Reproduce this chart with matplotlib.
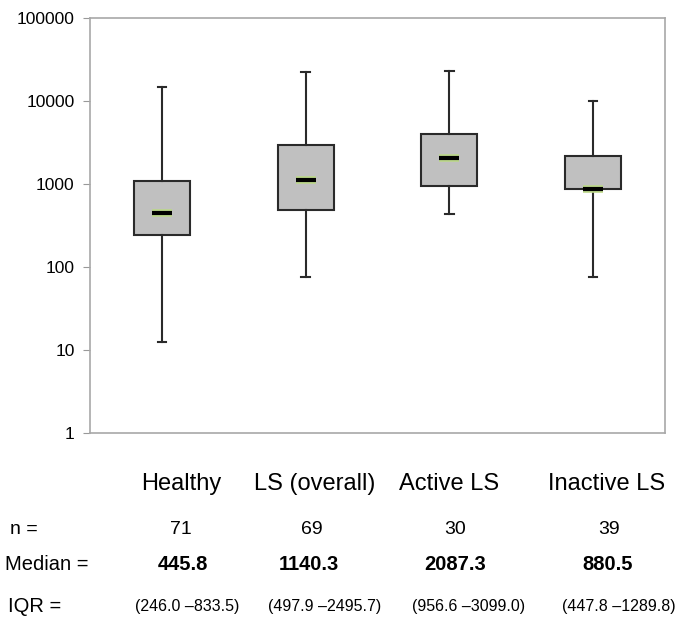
import matplotlib
matplotlib.use('Agg')
import matplotlib.pyplot as plt
import matplotlib.patheffects as pe
import numpy as np

plt.rcParams['font.family'] = ['Liberation Sans', 'DejaVu Sans']

# values
groups = ['Healthy', 'LS (overall)', 'Active LS', 'Inactive LS']
whisker_low = [12.5, 75, 435, 75]
box_low = [243, 490, 950, 870]
medians = [447, 1120, 2060, 880]
box_high = [1085, 2950, 4000, 2175]
whisker_high = [14800, 22400, 22900, 10000]

n_values = ['71', '69', '30', '39']
median_labels = ['445.8', '1140.3', '2087.3', '880.5']
iqr_labels = ['(246.0 \u2013833.5)', '(497.9 \u20132495.7)', '(956.6 \u20133099.0)', '(447.8 \u20131289.8)']

W, H = 685, 627
fig = plt.figure(figsize=(W / 100, H / 100), dpi=100)
ax = fig.add_axes([90 / W, (H - 433) / H, 575 / W, 415 / H])

stats = []
for i in range(len(groups)):
    stats.append({'whislo': whisker_low[i], 'q1': box_low[i], 'med': medians[i],
                  'q3': box_high[i], 'whishi': whisker_high[i], 'fliers': [], 'label': groups[i]})

positions = np.arange(1, len(groups) + 1)
ax.bxp(stats, positions=positions, widths=0.39, patch_artist=True, showfliers=False,
       capwidths=0.06,
       boxprops=dict(facecolor='#c0c0c0', edgecolor='#2a2a2a', linewidth=1.5),
       whiskerprops=dict(color='#2a2a2a', linewidth=1.5),
       capprops=dict(color='#2a2a2a', linewidth=1.5),
       medianprops=dict(visible=False))

# short median bars with a green halo
for p, m in zip(positions, medians):
    ax.plot([p - 0.07, p + 0.07], [m, m], color='black', lw=3, solid_capstyle='butt', zorder=5,
            path_effects=[pe.Stroke(linewidth=5.5, foreground='#bcd88a'), pe.Normal()])

ax.set_yscale('log')
ax.set_ylim(1, 100000)
ax.set_xlim(0.5, 4.5)
ax.set_yticks([1, 10, 100, 1000, 10000, 100000])
ax.set_yticklabels(['1', '10', '100', '1000', '10000', '100000'])
ax.yaxis.set_minor_locator(matplotlib.ticker.NullLocator())
ax.set_xticks([])
ax.tick_params(axis='y', labelsize=12.5, length=5, color='#999999', pad=6)
for s in ax.spines.values():
    s.set_color('#a8a8a8')
    s.set_linewidth(1.2)


def put(x, y, s, **kw):
    fig.text(x / W, 1 - y / H, s, va='center', **kw)


cat_x = [181, 315, 449, 607]
n_x = [181, 312, 455, 609]
med_x = [183, 309, 455, 608]
iqr_x = [187, 325, 469, 619]

for i in range(len(groups)):
    put(cat_x[i], 484, groups[i], ha='center', fontsize=17)
    put(n_x[i], 530, n_values[i], ha='center', fontsize=14)
    put(med_x[i], 565, median_labels[i], ha='center', fontsize=14.5, fontweight='bold')
    put(iqr_x[i], 607, iqr_labels[i], ha='center', fontsize=11.5)

put(10, 530, 'n =', ha='left', fontsize=14)
put(5, 565, 'Median =', ha='left', fontsize=14.5)
put(8, 607, 'IQR =', ha='left', fontsize=14.5)

fig.savefig('out.png', dpi=100)
